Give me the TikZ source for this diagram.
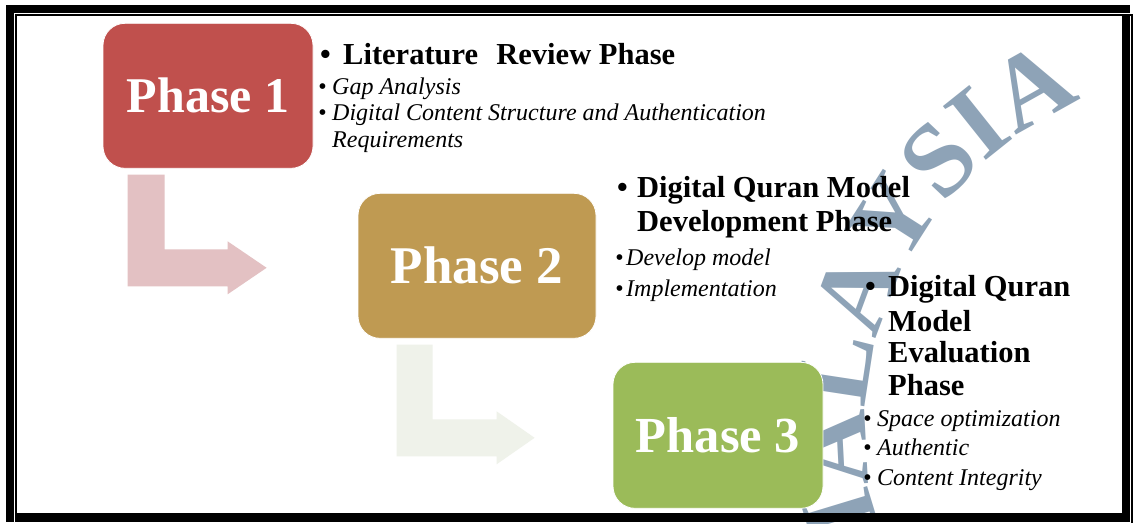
\documentclass[tikz,border=0pt]{standalone}
\usepackage{fontspec}
\setmainfont{Liberation Serif}
\usetikzlibrary{calc}

\definecolor{phaseone}{HTML}{C0504D}
\definecolor{phasetwo}{HTML}{BF9A52}
\definecolor{phasethree}{HTML}{9BBB59}
\definecolor{arrowone}{HTML}{E3C1C3}
\definecolor{arrowtwo}{HTML}{EFF2EA}
\definecolor{wmcol}{HTML}{8EA3B7}

\begin{document}
\begin{tikzpicture}[x=1pt,y=-1pt,
  phasebox/.style={rectangle, rounded corners=22pt, draw=white, line width=0.8pt,
    text=white, inner sep=0pt, minimum height=145pt},
  heading/.style={anchor=base west, inner sep=0pt, font=\bfseries\fontsize{30.5}{34}\selectfont},
  item/.style={anchor=base west, inner sep=0pt, font=\itshape\fontsize{24}{26}\selectfont},
  wmletter/.style={anchor=base, inner sep=0pt, text=wmcol, font=\bfseries\fontsize{105}{105}\selectfont}
]
% page
\useasboundingbox (0,0) rectangle (1133,523);
\fill[white] (0,0) rectangle (1133,523);

% watermark lettering on a circular arc
\coordinate (wc) at (1222,428);
\begin{scope}
  \clip (0,0) rectangle (1133,523);
  \foreach \ch/\ang [count=\i] in {M/196.9, A/183.0, L/171.3, A/159.6, Y/147.4, S/136.6, I/128.6, A/119.2}
    \path (wc) ++(\ang:356pt) node[wmletter, rotate=\ang-90] (wm\i) {\ch};
\end{scope}

% phase boxes
\node[phasebox, fill=phaseone, minimum width=210pt,
  font=\bfseries\fontsize{50}{60}\selectfont] (p1) at (208,95.8) {Phase 1};
\node[phasebox, fill=phasetwo, minimum width=238pt,
  font=\bfseries\fontsize{53}{60}\selectfont] (p2) at (477,265.8) {Phase 2};
\node[phasebox, fill=phasethree, minimum width=210pt, minimum height=146pt,
  font=\bfseries\fontsize{50.5}{60}\selectfont] (p3) at (718,435.3) {Phase 3};

% bent arrows between the phases
\coordinate (a1) at ($(p1.south west)+(25,6)$);
\coordinate (t1) at ($(p2.west)+(-91,2)$);
\fill[arrowone] (a1) -- ++(37,0) |- ($(t1)+(-39,-18.5)$) -- ++(0,-8) -- (t1)
  -- ($(t1)+(-39,26.5)$) -- ++(0,-8) -| (a1) -- cycle;
\coordinate (a2) at ($(p2.south west)+(39,6)$);
\coordinate (t2) at ($(p3.west)+(-78,2.5)$);
\fill[arrowtwo] (a2) -- ++(36,0) |- ($(t2)+(-38,-18.5)$) -- ++(0,-8) -- (t2)
  -- ($(t2)+(-38,26.5)$) -- ++(0,-8) -| (a2) -- cycle;

% phase 1 description
\node[heading] (h1) at (320,64) {\makebox[23pt][l]{\textbullet}Literature\hspace{0.6em}Review Phase};
\node[item] (i1a) at (318,94) {\makebox[14pt][l]{\textbullet}Gap Analysis};
\node[item] (i1b) at (318,120) {\makebox[14pt][l]{\textbullet}Digital Content Structure and Authentication};
\node[item] (i1c) at (332,147) {Requirements};

% phase 2 description
\node[heading] (h2a) at (617,197) {\makebox[20pt][l]{\textbullet}Digital Quran Model};
\node[heading] (h2b) at (637,231) {Development Phase};
\node[item] (i2a) at (615,265) {\makebox[11pt][l]{\textbullet}Develop model};
\node[item] (i2b) at (615,296) {\makebox[11pt][l]{\textbullet}Implementation};

% phase 3 description
\node[heading] (h3a) at (865,296) {\makebox[23pt][l]{\textbullet}Digital Quran};
\node[heading] (h3b) at (888,331) {Model};
\node[heading] (h3c) at (888,362) {Evaluation};
\node[heading] (h3d) at (888,395) {Phase};
\node[item] (i3a) at (863,426) {\makebox[14pt][l]{\textbullet}Space optimization};
\node[item] (i3b) at (863,455) {\makebox[14pt][l]{\textbullet}Authentic};
\node[item] (i3c) at (863,485) {\makebox[14pt][l]{\textbullet}Content Integrity};

% double page frame
\fill[black] (6,5) rectangle (14,522);
\fill[black] (15,14) rectangle (16.7,522);
\fill[black] (6,5) rectangle (1130,13);
\fill[black] (15,14) rectangle (1132.5,15.5);
\fill[black] (1121.7,15.5) rectangle (1130,522);
\fill[black] (1131,14) rectangle (1132.5,523);
\fill[black] (16.7,512.7) rectangle (1130,521.7);
\end{tikzpicture}
\end{document}
